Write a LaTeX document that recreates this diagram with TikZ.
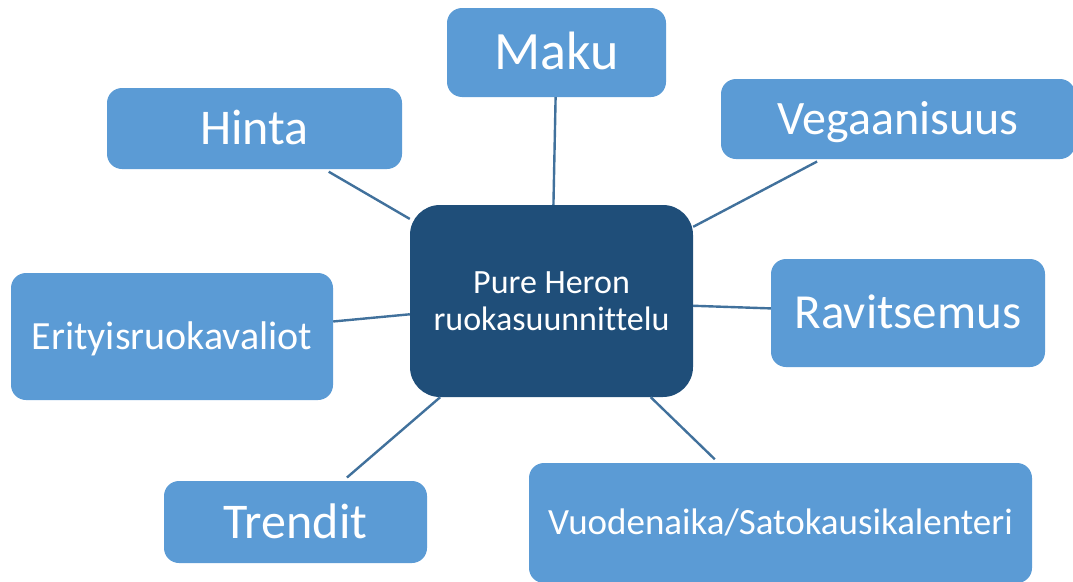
\documentclass[tikz,border=0pt]{standalone}
\usepackage{fontspec}
\setmainfont[Ligatures=NoCommon]{Carlito}
\definecolor{mylightblue}{RGB}{91,155,213}
\definecolor{mydarkblue}{RGB}{31,78,121}
\definecolor{mylineblue}{RGB}{65,113,156}
\newcommand{\sizeto}[1]{\fontsize{#1}{#1}\selectfont}
\tikzset{
    common/.style={rectangle, inner sep=0pt, text=white},
    topic/.style={common, fill=mylightblue, rounded corners=15pt,
        font=\sizeto{#1}, text height={0.644*#1pt}, text depth=0pt},
    hub/.style={common, fill=mydarkblue, rounded corners=30pt, align=center,
        font=\fontsize{34}{37}\selectfont},
    link/.style={draw=mylineblue, line width=2.4pt},
    gap/.style={shorten >=5pt}
}

\begin{document}
\begin{tikzpicture}[x=1pt, y=-1pt]
    \useasboundingbox (0,0) rectangle (1073,581);

    \node[hub, minimum width=283pt, minimum height=192pt] (hub) at (551.5,301) {Pure Heron\\ruokasuunnittelu};

    \node[topic=54, minimum width=219pt, minimum height=89pt] (maku) at (556.5,52.5) {Maku};
    \node[topic=50, minimum width=295pt, minimum height=81pt] (hinta) at (254.5,128.5) {Hinta};
    \node[topic=48, minimum width=354pt, minimum height=80pt] (vega) at (898,119) {Vegaanisuus};
    \node[topic=49, minimum width=274pt, minimum height=108pt] (ravit) at (908,313) {Ravitsemus};
    \node[topic=40, minimum width=322pt, minimum height=127pt] (erity) at (172,336.5) {Erityisruokavaliot};
    \node[topic=50, minimum width=263pt, minimum height=82pt] (trend) at (295.5,522) {Trendit};
    \node[topic=37, minimum width=503pt, minimum height=120pt] (vuode) at (780.5,523) {Vuodenaika/Satokausikalenteri};

    \draw[link] (hub) -- (maku);
    \draw[link, gap] (hub) -- (hinta);
    \draw[link, gap] (hub) -- (vega);
    \draw[link] (hub) -- (ravit);
    \draw[link] (hub) -- (erity);
    \draw[link, gap] (hub) -- (trend);
    \draw[link, gap] (hub) -- (vuode);
\end{tikzpicture}
\end{document}
